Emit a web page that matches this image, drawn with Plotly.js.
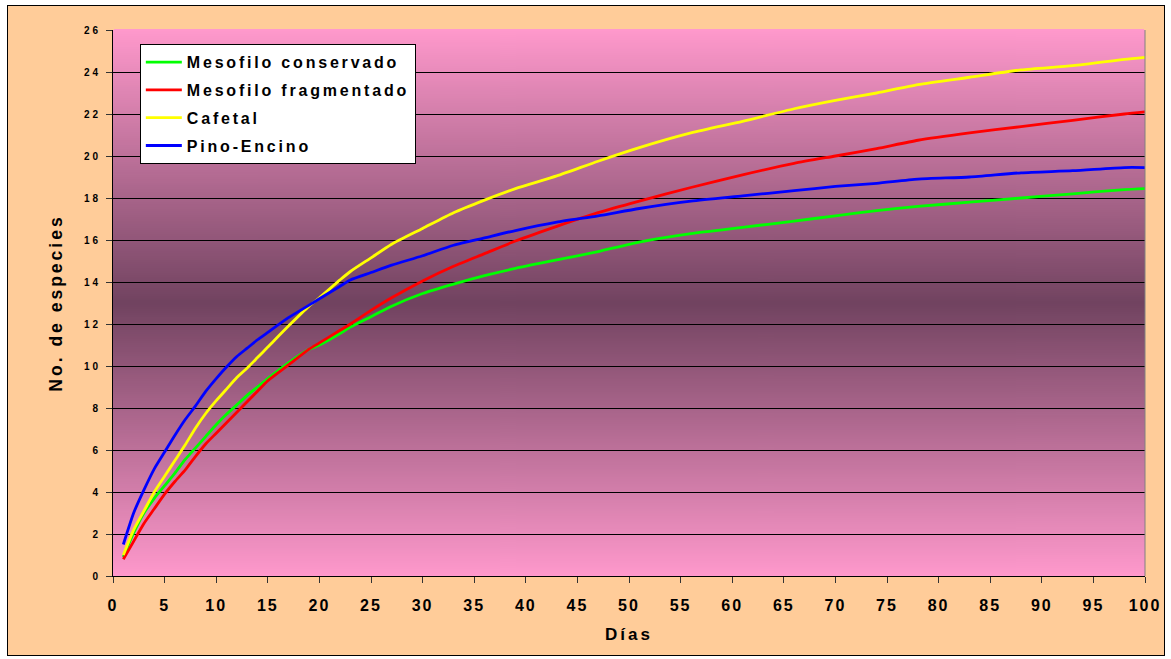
<!DOCTYPE html>
<html>
<head>
<meta charset="utf-8">
<script src="https://cdn.plot.ly/plotly-3.0.1.min.js"></script>
<style>
  html, body { margin: 0; padding: 0; background: #ffffff; }
  #frame {
    position: absolute; left: 7px; top: 5px;
    width: 1158px; height: 651px;
    box-sizing: border-box; border: 1px solid #000000;
    background: #FFCC99;
  }
  #chart { width: 1156px; height: 649px; }
  text.legendtext { letter-spacing: 2.8px; }
  .xtick text { letter-spacing: 2px; }
  .ytick text { letter-spacing: 3px; }
  text.xtitle, text.ytitle { letter-spacing: 3px; }
</style>
</head>
<body>
<div id="frame"><div id="chart"></div></div>
<script>
// Species accumulation curves (number of species vs. sampling days)
const dias = [1, 2, 3, 4, 5, 6, 7, 8, 9, 10, 11, 12, 13, 14, 15, 17, 19, 20, 22, 23,
              25, 27, 30, 33, 36, 39, 43, 47, 51, 56, 61, 66, 70, 74, 78, 83, 88, 93, 98, 100];

const mesofiloConservado = [0.9, 2.05, 3.0, 3.7, 4.3, 4.9, 5.55, 6.1, 6.65, 7.2, 7.7, 8.15, 8.6, 9.0, 9.4, 10.15, 10.8, 11.0, 11.55, 11.85,
                            12.35, 12.85, 13.45, 13.9, 14.3, 14.65, 15.05, 15.45, 15.9, 16.3, 16.6, 16.9, 17.15, 17.4, 17.6, 17.8, 18.0, 18.2, 18.4, 18.45];

const mesofiloFragmentado = [0.8, 1.65, 2.5, 3.2, 3.9, 4.5, 5.05, 5.7, 6.3, 6.8, 7.3, 7.8, 8.3, 8.8, 9.3, 10.05, 10.8, 11.1, 11.7, 12.0,
                             12.65, 13.25, 14.05, 14.75, 15.35, 15.95, 16.65, 17.3, 17.85, 18.5, 19.1, 19.65, 20.0, 20.35, 20.75, 21.1, 21.4, 21.7, 22.0, 22.1];

const cafetal = [1.0, 2.2, 3.1, 4.0, 4.75, 5.5, 6.25, 7.05, 7.75, 8.35, 8.9, 9.45, 9.9, 10.4, 10.9, 11.9, 12.85, 13.25, 14.1, 14.5,
                 15.15, 15.8, 16.55, 17.3, 17.9, 18.45, 19.05, 19.75, 20.4, 21.1, 21.65, 22.25, 22.65, 23.0, 23.4, 23.75, 24.1, 24.3, 24.6, 24.7];

const pinoEncino = [1.5, 3.0, 4.1, 5.1, 5.9, 6.7, 7.45, 8.1, 8.8, 9.4, 9.95, 10.45, 10.85, 11.25, 11.6, 12.3, 12.9, 13.2, 13.8, 14.1,
                    14.45, 14.8, 15.25, 15.75, 16.1, 16.45, 16.85, 17.15, 17.5, 17.85, 18.1, 18.35, 18.55, 18.7, 18.9, 19.0, 19.2, 19.3, 19.45, 19.45];

const seriesNames = ['Mesofilo conservado', 'Mesofilo fragmentado', 'Cafetal', 'Pino-Encino'];
const seriesValues = [mesofiloConservado, mesofiloFragmentado, cafetal, pinoEncino];
const seriesColors = ['#00FF00', '#FF0000', '#FFFF00', '#0000FF'];

const xTicks = [0, 5, 10, 15, 20, 25, 30, 35, 40, 45, 50, 55, 60, 65, 70, 75, 80, 85, 90, 95, 100];
const yTicks = [0, 2, 4, 6, 8, 10, 12, 14, 16, 18, 20, 22, 24, 26];

// Vertical plot-area fill: pink at the edges, dark mauve in the middle
function gradientImage() {
  const c = document.createElement('canvas');
  c.width = 4; c.height = 512;
  const g = c.getContext('2d');
  const grad = g.createLinearGradient(0, 0, 0, 512);
  grad.addColorStop(0, '#FF99CC');
  grad.addColorStop(0.5, '#714360');
  grad.addColorStop(1, '#FF99CC');
  g.fillStyle = grad;
  g.fillRect(0, 0, 4, 512);
  return c.toDataURL('image/png');
}

const FONT = 'Liberation Sans, Arial, sans-serif';

const traces = seriesNames.map((name, i) => ({
  type: 'scatter',
  mode: 'lines',
  name: name,
  legendgroup: 'g' + i,
  x: dias,
  y: seriesValues[i],
  line: { color: seriesColors[i], width: 2.8, shape: 'spline', smoothing: 0.6 },
  hoverinfo: 'x+y+name'
}));

const layout = {
  width: 1156,
  height: 649,
  margin: { l: 105, r: 19, t: 24, b: 79 },
  paper_bgcolor: 'rgba(0,0,0,0)',
  plot_bgcolor: '#FF99CC',
  font: { family: FONT, color: '#000000', weight: 'bold' },
  showlegend: true,
  legend: {
    x: 0.026, y: 0.974, xanchor: 'left', yanchor: 'top',
    bgcolor: '#FFFFFF', bordercolor: '#000000', borderwidth: 1,
    font: { family: FONT, size: 16, color: '#000000', weight: 'bold' },
    tracegroupgap: 4,
    itemwidth: 36,
    traceorder: 'grouped'
  },
  xaxis: {
    range: [0, 100],
    tickvals: xTicks,
    ticktext: xTicks.map(String),
    showgrid: false,
    zeroline: false,
    showline: true, linecolor: '#000000', linewidth: 1,
    ticks: 'outside', ticklen: 6, tickcolor: '#333333', tickwidth: 1,
    ticklabelstandoff: 9,
    tickfont: { family: FONT, size: 16, color: '#000000', weight: 'bold' },
    title: { text: 'Días', standoff: 14, font: { family: FONT, size: 17, color: '#000000', weight: 'bold' } }
  },
  yaxis: {
    range: [0, 26],
    tickvals: yTicks,
    ticktext: yTicks.map(String),
    showgrid: true, gridcolor: '#000000', gridwidth: 1,
    zeroline: false,
    showline: true, linecolor: '#000000', linewidth: 1,
    ticks: 'outside', ticklen: 6, tickcolor: '#333333', tickwidth: 1,
    ticklabelstandoff: 3,
    tickfont: { family: FONT, size: 10, color: '#000000', weight: 'bold' },
    title: { text: 'No. de especies', standoff: 16, font: { family: FONT, size: 17.5, color: '#000000', weight: 'bold' } }
  },
  images: [{
    source: gradientImage(),
    xref: 'paper', yref: 'paper',
    x: 0, y: 1, sizex: 1, sizey: 1,
    xanchor: 'left', yanchor: 'top',
    sizing: 'stretch', layer: 'below'
  }],
  shapes: [
    // plot-area top edge stays open (no grid line along it)
    { type: 'line', xref: 'paper', yref: 'paper', x0: 0.001, x1: 0.999, y0: 1, y1: 1,
      line: { color: '#FF99CC', width: 2 }, layer: 'above' },
    // thin grey right edge of the plot area
    { type: 'line', xref: 'paper', yref: 'paper', x0: 1, x1: 1, y0: 0, y1: 1,
      line: { color: '#808080', width: 1 } }
  ]
};

Plotly.newPlot('chart', traces, layout, { displayModeBar: false, staticPlot: true });
</script>
</body>
</html>
